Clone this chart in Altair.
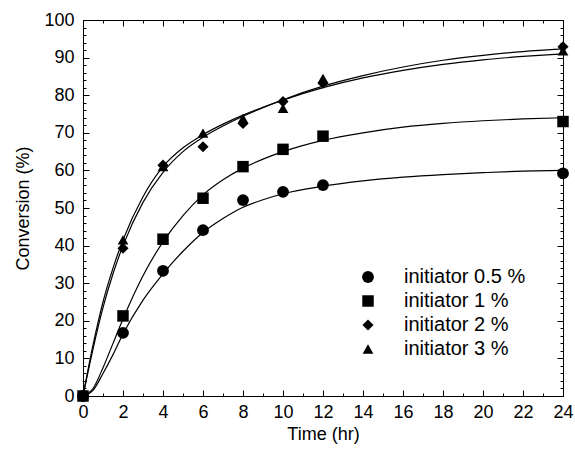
import altair as alt
import pandas as pd

# measured points
time_pts = [0, 2, 4, 6, 8, 10, 12, 24]
conv_05 = [0, 16.8, 33.3, 44.1, 52.1, 54.3, 56.1, 59.2]
conv_1 = [0, 21.3, 41.7, 52.6, 61.0, 65.6, 69.1, 73.0]
conv_2 = [0, 39.3, 61.4, 66.3, 72.5, 78.3, 83.2, 92.9]
conv_3 = [0, 41.5, 61.0, 69.9, 73.8, 76.5, 84.5, 91.8]

series = ["initiator 0.5 %", "initiator 1 %", "initiator 2 %", "initiator 3 %"]
shapes = ["circle", "square", "diamond", "triangle-up"]
sizes = [140, 115, 215, 200]

# fitted curves
curve_t = [0, 0.5, 1, 1.5, 2, 3, 4, 5, 6, 7, 8, 9, 10, 12, 14, 16, 18, 20, 22, 24]
fit_05 = [0, 1.5, 6, 11, 16.5, 25.5, 32.5, 38.5, 43.5, 47.2, 50.2, 52.2, 53.8, 55.8, 57.2, 58.2, 58.9, 59.4, 59.8, 60.0]
fit_1 = [0, 2, 7.5, 14, 20.5, 32, 41, 48, 53.5, 57.5, 60.6, 63, 65, 68, 70, 71.5, 72.5, 73.2, 73.7, 74.0]
fit_2 = [0, 12.5, 23.5, 32.5, 40, 51.5, 59.5, 65, 68.8, 71.8, 74.4, 76.7, 78.8, 82.4, 85.2, 87.5, 89.3, 90.6, 91.6, 92.3]
fit_3 = [0, 13.5, 25, 34, 41.5, 53, 61, 66, 69.5, 72.3, 74.7, 76.8, 78.7, 82, 84.6, 86.6, 88.2, 89.4, 90.3, 91.0]

x_major = list(range(0, 25, 2))
x_minor = list(range(1, 24, 2))
y_major = list(range(0, 101, 10))
y_minor = [v for v in range(0, 101, 2) if v % 10]

W, H = 480, 376
FONT = "Liberation Sans"

pts_rows = []
for name, vals in zip(series, [conv_05, conv_1, conv_2, conv_3]):
    for t, v in zip(time_pts, vals):
        pts_rows.append({"t": t, "v": v, "series": name})
pts_df = pd.DataFrame(pts_rows)

curve_rows = []
for name, vals in zip(series, [fit_05, fit_1, fit_2, fit_3]):
    for t, v in zip(curve_t, vals):
        curve_rows.append({"t": t, "v": v, "series": name})
curve_df = pd.DataFrame(curve_rows)

xscale = alt.Scale(domain=[0, 24], nice=False, zero=False)
yscale = alt.Scale(domain=[0, 100], nice=False, zero=False)

common = dict(grid=False, domainColor="black", tickColor="black", domainWidth=1, tickWidth=1)

x_lab = alt.Axis(orient="bottom", values=x_major, ticks=False, domain=False, grid=False,
                 labelPadding=7, labelFlush=False, labelOverlap=False,
                 title="Time (hr)", titlePadding=4)
y_lab = alt.Axis(orient="left", values=y_major, ticks=False, domain=False, grid=False,
                 labelPadding=9, labelFlush=False, labelOverlap=False,
                 title="Conversion (%)", titlePadding=11)

def inward(orient, offset, values, size, domain):
    return alt.Axis(orient=orient, offset=offset, values=values, tickSize=size,
                    labels=False, domain=domain, title=None, **common)

legend = alt.Legend(title=None, orient="none", legendX=275, legendY=247,
                    labelFontSize=20, labelFont=FONT, labelColor="black",
                    labelOffset=26, rowPadding=4,
                    symbolFillColor="black", symbolStrokeColor="black", symbolOpacity=1)

points = alt.Chart(pts_df).mark_point(filled=True, color="black", opacity=1).encode(
    x=alt.X("t:Q", scale=xscale, axis=x_lab),
    y=alt.Y("v:Q", scale=yscale, axis=y_lab),
    shape=alt.Shape("series:N", scale=alt.Scale(domain=series, range=shapes), legend=legend),
    size=alt.Size("series:N", scale=alt.Scale(domain=series, range=sizes), legend=legend),
)

def curve(name, xa, ya):
    return alt.Chart(curve_df).transform_filter(alt.datum.series == name).mark_line(
        color="black", strokeWidth=1.2, interpolate="monotone"
    ).encode(
        x=alt.X("t:Q", scale=xscale, axis=xa),
        y=alt.Y("v:Q", scale=yscale, axis=ya),
    )

c1 = curve(series[0], inward("top", -H, x_major, 6, True), inward("right", -W, y_major, 6, True))
c2 = curve(series[1], inward("top", -H, x_minor, 3, False), inward("right", -W, y_minor, 3, False))
c3 = curve(series[2], inward("bottom", -H, x_major, 6, True), inward("left", -W, y_major, 6, True))
c4 = curve(series[3], inward("bottom", -H, x_minor, 3, False), inward("left", -W, y_minor, 3, False))

chart = alt.layer(c1, c2, c3, c4, points).resolve_axis(
    x="independent", y="independent"
).properties(
    width=W, height=H,
    autosize=alt.AutoSizeParams(type="none"),
    padding={"left": 83, "top": 20, "right": 12, "bottom": 56},
    background="white",
).configure_axis(
    labelFont=FONT, labelFontSize=18, labelColor="black",
    titleFont=FONT, titleFontSize=18, titleColor="black", titleFontWeight="normal",
).configure_view(stroke=None)

chart.save("out.html", embed_options={"renderer": "svg", "actions": False})
